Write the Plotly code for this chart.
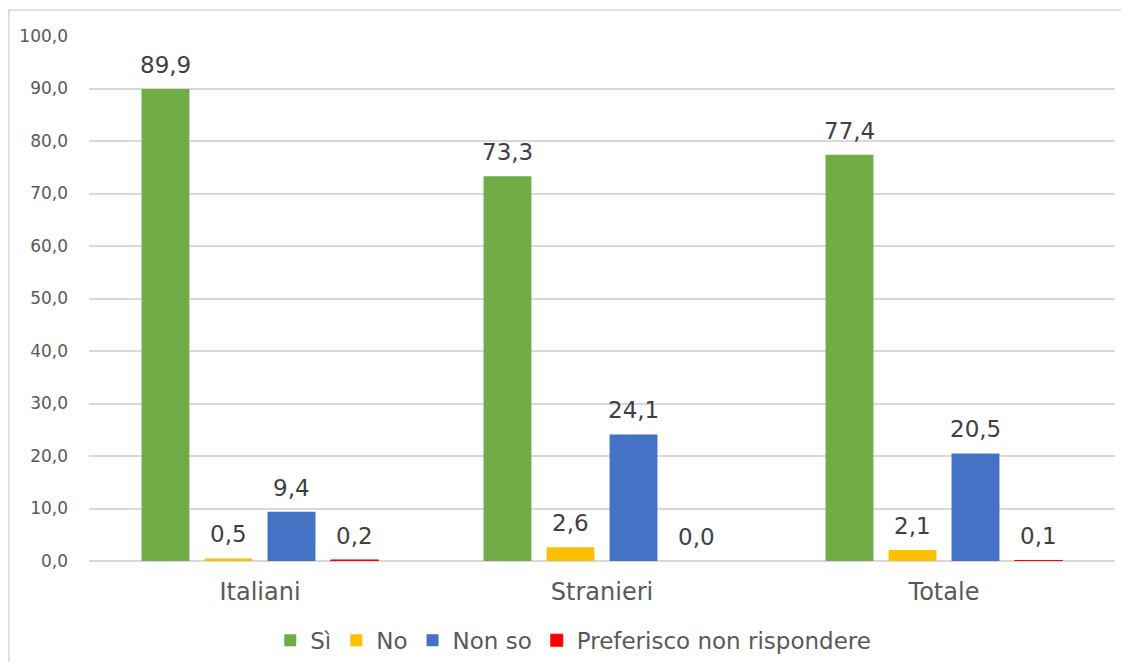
import plotly.graph_objects as go

categories = ["Italiani", "Stranieri", "Totale"]
series_names = ["Sì", "No", "Non so", "Preferisco non rispondere"]
si_values = [89.9, 73.3, 77.4]
no_values = [0.5, 2.6, 2.1]
nonso_values = [9.4, 24.1, 20.5]
pref_values = [0.2, 0.0, 0.1]
colors = ["#70AD47", "#FFC000", "#4472C4", "#FF0000"]
y_ticks = [0, 10, 20, 30, 40, 50, 60, 70, 80, 90, 100]
y_tick_labels = ["0,0", "10,0", "20,0", "30,0", "40,0", "50,0", "60,0", "70,0", "80,0", "90,0", "100,0"]

FONT = "DejaVu Sans"

W, H = 1113, 654
L, R, T = 81, 6, 28
pw, ph = 1026, 525
B = H - T - ph

BARGAP = 0.263
BARGROUPGAP = 0.24
slot = (pw / len(categories)) * (1 - BARGAP) / len(series_names)

all_values = [si_values, no_values, nonso_values, pref_values]

fig = go.Figure()
annotations = []
for i, (name, vals, col) in enumerate(zip(series_names, all_values, colors)):
    lw = [1 if 0 < v < 0.5 else 0 for v in vals]
    fig.add_trace(go.Bar(
        x=categories, y=vals, name=name,
        marker=dict(color=col, line=dict(width=lw, color=col)),
    ))
    off = (i - (len(series_names) - 1) / 2) * slot
    for c, v in zip(categories, vals):
        annotations.append(dict(
            x=c, y=v, xref="x", yref="y", text=f"{v:.1f}".replace(".", ","),
            showarrow=False, xanchor="center", yanchor="bottom",
            xshift=off, yshift=9,
            font=dict(family=FONT, size=23, color="#404040"),
        ))

fig.update_layout(
    width=W, height=H,
    margin=dict(l=L, r=R, t=T, b=B, autoexpand=False),
    paper_bgcolor="white", plot_bgcolor="white",
    barmode="group", bargap=BARGAP, bargroupgap=BARGROUPGAP,
    font=dict(family=FONT, color="#595959"),
    showlegend=True,
    legend=dict(orientation="h", x=0.472, xanchor="center", y=-0.110, yanchor="top",
                font=dict(family=FONT, size=23, color="#595959"),
                itemwidth=30, traceorder="normal"),
    xaxis=dict(showgrid=False, showline=False, ticks="",
               tickfont=dict(family=FONT, size=24, color="#595959"), ticklabelstandoff=14),
    yaxis=dict(range=[0, 100], tickvals=y_ticks, ticktext=y_tick_labels,
               showgrid=True, gridcolor="#D9D9D9", gridwidth=1.5,
               zeroline=True, zerolinecolor="#D9D9D9", zerolinewidth=1.5,
               showline=False, ticks="",
               tickfont=dict(family=FONT, size=17, color="#595959"), ticklabelstandoff=20),
    annotations=annotations,
    shapes=[dict(type="rect", xref="paper", yref="paper",
                 x0=(0.8 - L) / pw, x1=(W + 20 - L) / pw,
                 y0=(T + ph - H - 30) / ph, y1=(T + ph - 2) / ph,
                 line=dict(color="#D9D9D9", width=1.5), fillcolor="rgba(0,0,0,0)", layer="below")],
)

fig.write_html("out.html")
